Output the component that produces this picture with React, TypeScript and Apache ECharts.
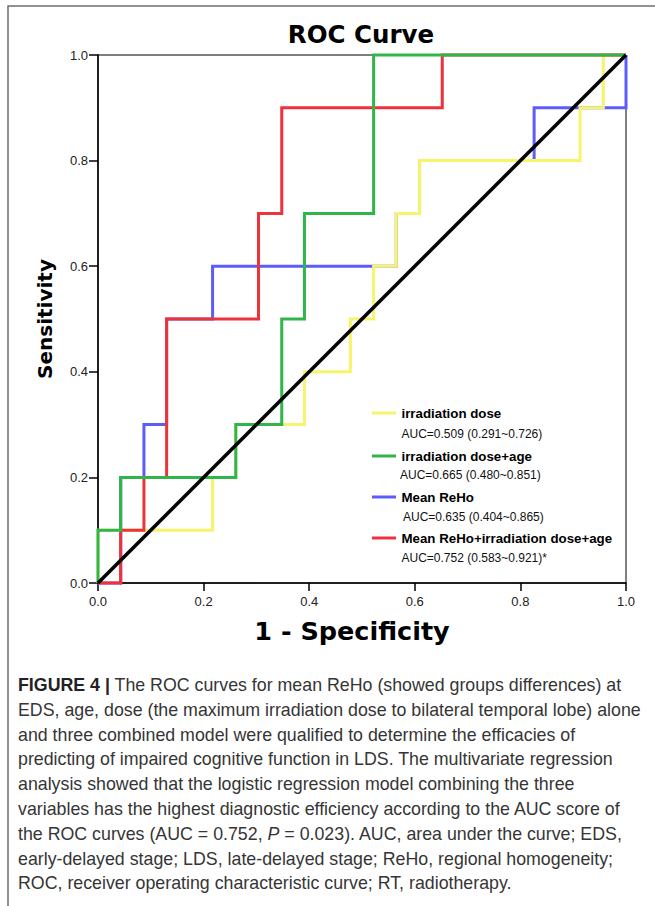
import React, { useEffect, useRef } from "react";
import * as echarts from "echarts";

// ROC curve vertices: 1 - specificity (x) and sensitivity (y)
const fprBlue = [0, 0.043, 0.043, 0.087, 0.087, 0.13, 0.13, 0.217, 0.217, 0.565, 0.565, 0.609, 0.609, 0.826, 0.826, 1, 1];
const tprBlue = [0, 0, 0.2, 0.2, 0.3, 0.3, 0.5, 0.5, 0.6, 0.6, 0.7, 0.7, 0.8, 0.8, 0.9, 0.9, 1];

const fprYellow = [0, 0, 0.217, 0.217, 0.261, 0.261, 0.391, 0.391, 0.478, 0.478, 0.522, 0.522, 0.565, 0.565, 0.609, 0.609, 0.913, 0.913, 0.957, 0.957, 1];
const tprYellow = [0, 0.1, 0.1, 0.2, 0.2, 0.3, 0.3, 0.4, 0.4, 0.5, 0.5, 0.6, 0.6, 0.7, 0.7, 0.8, 0.8, 0.9, 0.9, 1, 1];

const fprRed = [0, 0.043, 0.043, 0.087, 0.087, 0.13, 0.13, 0.304, 0.304, 0.348, 0.348, 0.652, 0.652, 1];
const tprRed = [0, 0, 0.1, 0.1, 0.2, 0.2, 0.5, 0.5, 0.7, 0.7, 0.9, 0.9, 1, 1];

const fprGreen = [0, 0, 0.043, 0.043, 0.261, 0.261, 0.348, 0.348, 0.391, 0.391, 0.522, 0.522, 1];
const tprGreen = [0, 0.1, 0.1, 0.2, 0.2, 0.3, 0.3, 0.5, 0.5, 0.7, 0.7, 1, 1];

const fprRef = [0, 1];
const tprRef = [0, 1];

const legendNames = [
  "irradiation dose",
  "irradiation dose+age",
  "Mean ReHo",
  "Mean ReHo+irradiation dose+age",
];
const legendAuc = [
  "AUC=0.509 (0.291~0.726)",
  "AUC=0.665 (0.480~0.851)",
  "AUC=0.635 (0.404~0.865)",
  "AUC=0.752 (0.583~0.921)*",
];
const legendColors = ["#f7f36b", "#2fb54a", "#5c5cfc", "#ee323c"];

const captionLines = [
  "{b|FIGURE 4 |} The ROC curves for mean ReHo (showed groups differences) at",
  "EDS, age, dose (the maximum irradiation dose to bilateral temporal lobe) alone",
  "and three combined model were qualified to determine the efficacies of",
  "predicting of impaired cognitive function in LDS. The multivariate regression",
  "analysis showed that the logistic regression model combining the three",
  "variables has the highest diagnostic efficiency according to the AUC score of",
  "the ROC curves (AUC = 0.752, {i|P} = 0.023). AUC, area under the curve; EDS,",
  "early-delayed stage; LDS, late-delayed stage; ReHo, regional homogeneity;",
  "ROC, receiver operating characteristic curve; RT, radiotherapy.",
];

const zip = (xs: number[], ys: number[]) => xs.map((x, i) => [x, ys[i]]);

export default function App() {
  const ref = useRef<HTMLDivElement>(null);
  useEffect(() => {
    if (!ref.current) return;
    const chart = echarts.init(ref.current, undefined, { renderer: "svg" });
    const sans = "'Liberation Sans', Arial, sans-serif";
    const heavy = "'DejaVu Sans', 'Liberation Sans', Arial, sans-serif";

    const lineSeries = (name: string, data: number[][], color: string, width: number) => ({
      name,
      type: "line",
      data,
      showSymbol: false,
      symbol: "none",
      clip: false,
      lineStyle: { color, width, cap: "butt", join: "miter" },
      itemStyle: { color },
      emphasis: { disabled: true },
    });

    const legendGraphics: any[] = [];
    const legendY = [413, 456, 497, 538];
    const aucY = [434, 475, 516.5, 558];
    const aucX = [401.5, 400, 403, 401.5];
    legendNames.forEach((n, i) => {
      legendGraphics.push({
        type: "line",
        shape: { x1: 372, y1: legendY[i], x2: 396, y2: legendY[i] },
        style: { stroke: legendColors[i], lineWidth: 3 },
      });
      legendGraphics.push({
        type: "text",
        style: {
          text: n,
          x: 401.5,
          y: legendY[i],
          fill: "#000",
          fontSize: 13.3,
          fontWeight: "bold",
          fontFamily: sans,
          textAlign: "left",
          textVerticalAlign: "middle",
        },
      });
      legendGraphics.push({
        type: "text",
        style: {
          text: legendAuc[i],
          x: aucX[i],
          y: aucY[i],
          fill: "#111",
          fontSize: 12,
          fontFamily: sans,
          textAlign: "left",
          textVerticalAlign: "middle",
        },
      });
    });

    const capSize = 17.8;
    const captionGraphics = captionLines.map((t, i) => ({
      type: "text",
      style: {
        text: t,
        x: 18,
        y: 685 + i * 24.8,
        fill: "#353535",
        fontSize: capSize,
        fontFamily: sans,
        textAlign: "left",
        textVerticalAlign: "middle",
        rich: {
          b: { fontWeight: "bold", fontSize: capSize, fontFamily: sans, fill: "#222" },
          i: { fontStyle: "italic", fontSize: capSize, fontFamily: sans, fill: "#353535" },
        },
      },
    }));

    chart.setOption({
      animation: false,
      backgroundColor: "#fff",
      grid: {
        left: 98,
        top: 55,
        width: 528,
        height: 528,
        show: true,
        borderColor: "#000",
        borderWidth: 1,
        backgroundColor: "transparent",
      },
      xAxis: {
        type: "value",
        min: 0,
        max: 1,
        interval: 0.2,
        name: "1 - Specificity",
        nameLocation: "middle",
        nameGap: 35,
        nameTextStyle: {
          fontSize: 25.5,
          fontWeight: "bold",
          fontFamily: heavy,
          color: "#000",
          padding: [0, 20, 0, 0],
        },
        axisLine: { show: true, lineStyle: { color: "#000", width: 1.5 } },
        axisTick: { show: true, length: 8, lineStyle: { color: "#000", width: 1.5 } },
        axisLabel: {
          fontSize: 13,
          fontFamily: sans,
          color: "#222",
          margin: 12,
          formatter: (v: number) => v.toFixed(1),
        },
        splitLine: { show: false },
      },
      yAxis: {
        type: "value",
        min: 0,
        max: 1,
        interval: 0.2,
        name: "Sensitivity",
        nameLocation: "middle",
        nameGap: 43,
        nameRotate: 90,
        nameTextStyle: { fontSize: 20, fontWeight: "bold", fontFamily: heavy, color: "#000" },
        axisLine: { show: true, lineStyle: { color: "#000", width: 1.5 } },
        axisTick: { show: true, length: 9, lineStyle: { color: "#000", width: 1.5 } },
        axisLabel: {
          fontSize: 13,
          fontFamily: sans,
          color: "#222",
          margin: 10,
          formatter: (v: number) => v.toFixed(1),
        },
        splitLine: { show: false },
      },
      series: [
        lineSeries("Mean ReHo", zip(fprBlue, tprBlue), legendColors[2], 3),
        lineSeries("irradiation dose", zip(fprYellow, tprYellow), legendColors[0], 3),
        lineSeries("Mean ReHo+irradiation dose+age", zip(fprRed, tprRed), legendColors[3], 3),
        lineSeries("irradiation dose+age", zip(fprGreen, tprGreen), legendColors[1], 3),
        lineSeries("Reference", zip(fprRef, tprRef), "#000", 3.5),
      ],
      graphic: [
        {
          type: "polyline",
          shape: { points: [[8, 906], [8, 6], [655, 6]] },
          style: { stroke: "#6e6e6e", lineWidth: 1.5, fill: "none" },
        },
        {
          type: "text",
          style: {
            text: "ROC Curve",
            x: 361,
            y: 34,
            fill: "#000",
            fontSize: 24.5,
            fontWeight: "bold",
            fontFamily: heavy,
            textAlign: "center",
            textVerticalAlign: "middle",
          },
        },
        ...legendGraphics,
        ...captionGraphics,
      ],
    });
    return () => chart.dispose();
  }, []);

  return (
    <div style={{ position: "absolute", left: 0, top: 0, width: 655, height: 906, background: "#fff" }}>
      <div ref={ref} style={{ width: 655, height: 906 }} />
    </div>
  );
}
